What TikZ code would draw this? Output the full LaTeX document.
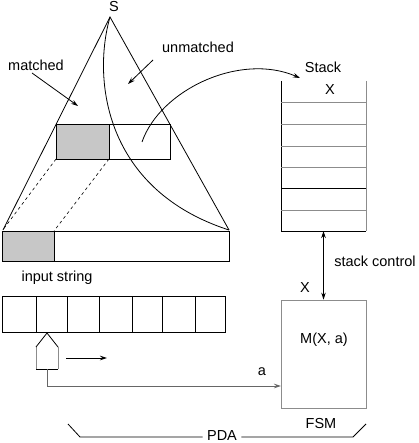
\documentclass[tikz,border=0pt]{standalone}
\usepackage{fontspec}
\setmainfont{Liberation Sans}
\usetikzlibrary{arrows.meta}
\begin{document}
\begin{tikzpicture}[x=1pt,y=-1pt,
  line width=0.8pt,
  txt/.style={inner sep=0pt, font=\fontsize{14.5}{17}\selectfont},
  arr/.style={-{Stealth[length=7pt,width=4.5pt]}},
  darr/.style={{Stealth[length=7pt,width=4.5pt]}-{Stealth[length=7pt,width=4.5pt]}},
  shade/.style={fill=black!22},
  soft/.style={draw=black!45}]
\useasboundingbox (0,0) rectangle (418,443);
% triangle (parse tree)
\coordinate (apex) at (110,17);
\coordinate (bl) at (3,230);
\coordinate (br) at (229,230);
\draw (bl) -- (apex) -- (br);
\draw (apex) .. controls (92,80) and (105,190) .. (br);
% inner box
\draw[shade] (56,124) rectangle (109,159);
\draw (109,124) rectangle (170,159);
% input strip
\draw[shade] (2,231) rectangle (54,261);
\draw (54,231) rectangle (229,261);
\draw[dashed, line width=0.6pt] (56,159) -- (2,231);
\draw[dashed, line width=0.6pt] (109,159) -- (54,231);
% labels
\node[txt] (S) at (114,7) {S};
\node[txt] (matched) at (36,65) {matched};
\node[txt] (unmatched) at (198,47) {unmatched};
\coordinate (m1) at (32,73);
\coordinate (m2) at (78,106);
\draw[arr] (m1) -- (m2);
\coordinate (u1) at (153,60);
\coordinate (u2) at (128,84);
\draw[arr] (u1) -- (u2);
% stack
\draw (281,81) -- (281,231) -- (366,231);
\draw[soft] (366,81) -- (366,231);
\foreach \yy in {102,124,146,167,210} \draw[soft] (281,\yy) -- (366,\yy);
\draw (281,188) -- (366,188);
\coordinate (stackbot) at (323.5,231);
\node[txt] (stacklbl) at (323,67) {Stack};
\node[txt] (topX) at (330,90) {X};
\coordinate (c1) at (142,142);
\coordinate (c2) at (300,78);
\draw[arr] (c1) .. controls (160,90) and (240,52) .. (c2);
% FSM
\node[draw=black!45, minimum width=85pt, minimum height=108pt, inner sep=0pt] (fsm) at (323.5,354) {};
\node[txt] (Mxa) at (324,340) {M(X, a)};
\draw[darr] (stackbot) -- (fsm.north);
\node[txt] (ctl) at (375,261) {stack control};
\node[txt] (fsmX) at (305,288) {X};
% input tape
\node[txt] (input) at (57,278) {input string};
\draw (2,296) rectangle (225,332);
\foreach \xx in {36,67,99,132,162,195} \draw (\xx,296) -- (\xx,332);
% head
\draw (47,333) -- (58,347);
\draw[soft] (58,347) -- (58,369);
\draw (58,369) -- (36,369);
\draw[soft] (36,369) -- (36,347);
\draw (36,347) -- (47,333);
\coordinate (headbot) at (47,369);
\coordinate (fsmin) at (281,386);
\draw[arr, draw=black!60] (headbot) |- (fsmin);
\node[txt] (a) at (262,372) {a};
\coordinate (r1) at (66,358);
\coordinate (r2) at (107,358);
\draw[arr] (r1) -- (r2);
% bracket
\node[txt, anchor=base, text depth=0pt] (PDA) at (222,440.5) {PDA};
\node[txt] (FSMl) at (321,424) {FSM};
\coordinate (p1) at (68,424);
\coordinate (p2) at (80,437);
\coordinate (p3) at (353,437);
\coordinate (p4) at (366,424);
\draw (p1) -- (p2) -- ([xshift=-4pt]PDA.west |- p2);
\draw ([xshift=4pt]PDA.east |- p3) -- (p3) -- (p4);
\end{tikzpicture}
\end{document}
